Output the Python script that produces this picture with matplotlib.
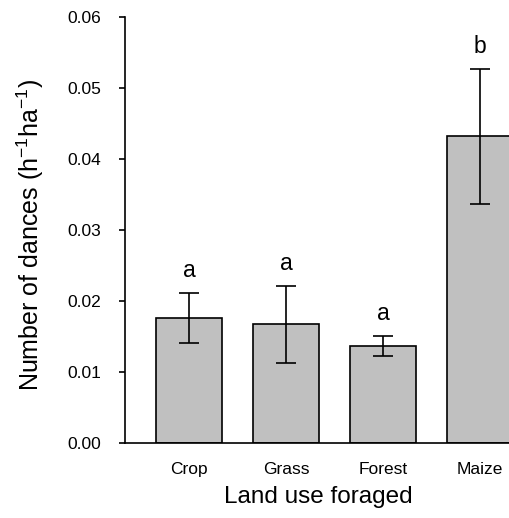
import matplotlib.pyplot as plt

plt.rcParams["font.family"] = ["Liberation Sans", "DejaVu Sans"]
plt.rcParams["mathtext.fontset"] = "custom"
plt.rcParams["mathtext.rm"] = "Liberation Sans"
plt.rcParams["mathtext.it"] = "Liberation Sans:italic"

# dance rate per land use type, mean and standard error
land_use = ["Crop", "Grass", "Forest", "Maize"]
dances = [0.0176, 0.0167, 0.0137, 0.0432]
dances_se = [0.0035, 0.0054, 0.0014, 0.0095]
groups = ["a", "a", "a", "b"]

W, H = 509, 518
fig = plt.figure(figsize=(W / 100, H / 100), dpi=100)

# axes frame in pixels; the right edge runs past the figure so the last bar is cut
left, right, top, bottom = 125, 528.5, 17, 443
ax = fig.add_axes([left / W, 1 - bottom / H, (right - left) / W, (bottom - top) / H])

x = list(range(len(land_use)))
ax.bar(x, dances, width=0.68, color="#c0c0c0", edgecolor="black", linewidth=1.2, zorder=2)
ax.errorbar(x, dances, yerr=dances_se, fmt="none", ecolor="black",
            elinewidth=1.2, capsize=7, capthick=1.2, zorder=3)

for xi, m, se, g in zip(x, dances, dances_se, groups):
    ax.annotate(g, (xi, m + se), xytext=(0, 8), textcoords="offset points",
                ha="center", va="bottom", fontsize=16.5)

ax.set_xlim(-0.66, 3.5)
ax.set_ylim(0, 0.06)
ax.set_yticks([0.0, 0.01, 0.02, 0.03, 0.04, 0.05, 0.06])
ax.set_yticklabels([f"{v:.2f}" for v in ax.get_yticks()])
ax.set_xticks(x)
ax.set_xticklabels(land_use)

ax.spines["top"].set_visible(False)
ax.spines["right"].set_visible(False)
ax.spines["left"].set_linewidth(1.2)
ax.spines["bottom"].set_linewidth(1.2)
ax.tick_params(axis="y", direction="out", length=4, width=1.2, pad=13, labelsize=12.5)
ax.tick_params(axis="x", length=0, pad=14, labelsize=12.5)

ax.set_ylabel("Number of dances (h$^{\u2212 1}$ha$^{\u2212 1}$)", fontsize=18)
ax.yaxis.set_label_coords(-0.196, 0.488)
fig.text(318 / W, 1 - 497 / H, "Land use foraged", fontsize=17.5, ha="center", va="center")

fig.savefig("out.png", dpi=100)
